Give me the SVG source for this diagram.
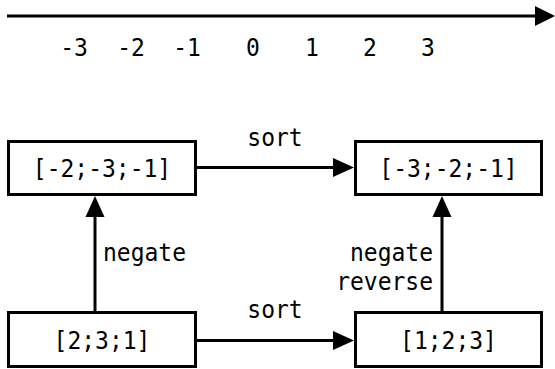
<svg xmlns="http://www.w3.org/2000/svg" width="555" height="369" viewBox="0 0 555 369">
<style>
text{font-family:"DejaVu Sans Mono","Liberation Mono",monospace;font-size:23px;fill:#000}
.box{fill:#fff;stroke:#000;stroke-width:3}
.ln{stroke:#000;stroke-width:3;fill:none}
.hd{fill:#000}
.m{text-anchor:middle}
.e{text-anchor:end}
</style>
<rect width="555" height="369" fill="#fff"/>
<g id="axis">
<line class="ln" x1="7" y1="16" x2="537" y2="16"/>
<polygon class="hd" points="535,6 555,16 535,26"/>
<text class="m" transform="translate(74,56) scale(1,1.1)">-3</text>
<text class="m" transform="translate(131,56) scale(1,1.1)">-2</text>
<text class="m" transform="translate(187,56) scale(1,1.1)">-1</text>
<text class="m" transform="translate(253,56) scale(1,1.1)">0</text>
<text class="m" transform="translate(312,56) scale(1,1.1)">1</text>
<text class="m" transform="translate(370,56) scale(1,1.1)">2</text>
<text class="m" transform="translate(428,56) scale(1,1.1)">3</text>
</g>
<g id="connectors">
<line class="ln" x1="197" y1="167.5" x2="335" y2="167.5"/>
<polygon class="hd" points="333,158 354,167.5 333,177"/>
<text class="m" transform="translate(275,146) scale(1,1.1)">sort</text>
<line class="ln" x1="197" y1="340.5" x2="335" y2="340.5"/>
<polygon class="hd" points="333,331 354,340.5 333,350"/>
<text class="m" transform="translate(275,318) scale(1,1.1)">sort</text>
<line class="ln" x1="95" y1="312" x2="95" y2="215"/>
<polygon class="hd" points="85.5,217 95,196 104.5,217"/>
<text transform="translate(103,261) scale(1,1.1)">negate</text>
<line class="ln" x1="442" y1="312" x2="442" y2="215"/>
<polygon class="hd" points="432.5,217 442,196 451.5,217"/>
<text class="e" transform="translate(433,261) scale(1,1.1)">negate</text>
<text class="e" transform="translate(433,290) scale(1,1.1)">reverse</text>
</g>
<g id="n1">
<rect class="box" x="8.5" y="141.5" width="187" height="53"/>
<text class="m" transform="translate(102,177) scale(1,1.1)">[-2;-3;-1]</text>
</g>
<g id="n2">
<rect class="box" x="355.5" y="141.5" width="186" height="53"/>
<text class="m" transform="translate(448.5,177) scale(1,1.1)">[-3;-2;-1]</text>
</g>
<g id="n3">
<rect class="box" x="8.5" y="312.5" width="187" height="54"/>
<text class="m" transform="translate(102,349) scale(1,1.1)">[2;3;1]</text>
</g>
<g id="n4">
<rect class="box" x="355.5" y="312.5" width="186" height="54"/>
<text class="m" transform="translate(448.5,349) scale(1,1.1)">[1;2;3]</text>
</g>
</svg>
